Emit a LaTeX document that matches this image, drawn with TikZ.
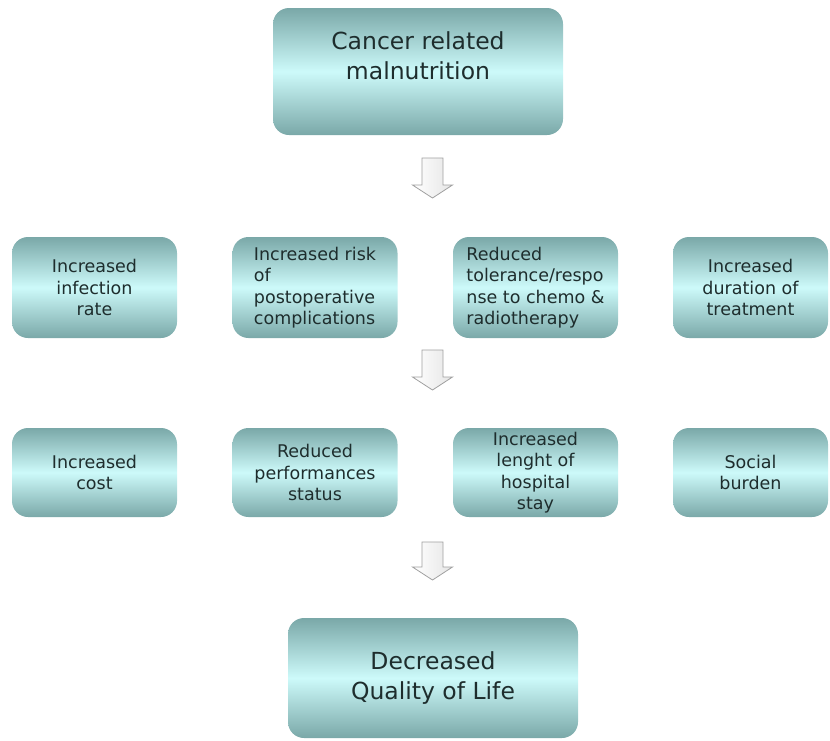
\documentclass[tikz,border=0pt]{standalone}
\usepackage{fontspec}
\setmainfont{DejaVu Sans}
\definecolor{boxedge}{RGB}{122,168,168}
\definecolor{boxmid}{RGB}{205,250,250}
\definecolor{boxtext}{RGB}{30,45,45}
\definecolor{arrowline}{RGB}{160,160,160}
\newcommand{\hollowarrow}[2]{\draw[hollowarrow] (#1) ++(-10.5,0) -- ++(21,0) -- ++(0,-#2) -- ++(9.5,0) -- ++(-20,-13) -- ++(-20,13) -- ++(9.5,0) -- cycle;}
\begin{document}
\begin{tikzpicture}[x=1pt,y=1pt,
  card/.style={rounded corners=16pt,top color=boxedge,bottom color=boxedge,middle color=boxmid,text=boxtext,inner sep=0pt},
  bigcard/.style={card,minimum width=290pt,font=\fontsize{23.5}{29.5}\selectfont,align=center},
  rowcard/.style={card,minimum width=165pt,font=\fontsize{17.5}{21.5}\selectfont},
  hollowarrow/.style={draw=arrowline,line width=0.8pt,left color=white,right color=gray!20}]
\useasboundingbox (0,0) rectangle (830,-740);
\node[bigcard,minimum height=127pt] (cancer) at (418,-71.5) {\parbox[c][127pt][t]{290pt}{\centering\vspace*{24pt}Cancer related\\malnutrition}};
\node[rowcard,minimum height=101pt,align=center] (infection) at (94.5,-287.5) {Increased\\infection\\rate};
\node[rowcard,minimum height=101pt,align=left] (postop) at (315,-287.5) {Increased risk\\of\\postoperative\\complications};
\node[rowcard,minimum height=101pt,align=left] (tolerance) at (535.5,-287.5) {Reduced\\tolerance/respo\\nse to chemo \&\\radiotherapy};
\node[rowcard,minimum height=101pt,minimum width=155pt,align=center] (duration) at (750.5,-287.5) {Increased\\duration of\\treatment};
\node[rowcard,minimum height=89pt,align=center] (cost) at (94.5,-472.5) {Increased\\cost};
\node[rowcard,minimum height=89pt,align=center] (performance) at (315,-472.5) {Reduced\\performances\\status};
\node[rowcard,minimum height=89pt,align=center] (stay) at (535.5,-472.5) {Increased\\lenght of\\hospital\\stay};
\node[rowcard,minimum height=89pt,minimum width=155pt,align=center] (burden) at (750.5,-472.5) {Social\\burden};
\node[bigcard,minimum height=120pt] (qol) at (433,-678) {Decreased\\Quality of Life};
\coordinate (arr1) at (432.5,-158);
\coordinate (arr2) at (432.5,-350);
\coordinate (arr3) at (432.5,-542);
\hollowarrow{arr1}{27}
\hollowarrow{arr2}{27}
\hollowarrow{arr3}{25}
\end{tikzpicture}
\end{document}
